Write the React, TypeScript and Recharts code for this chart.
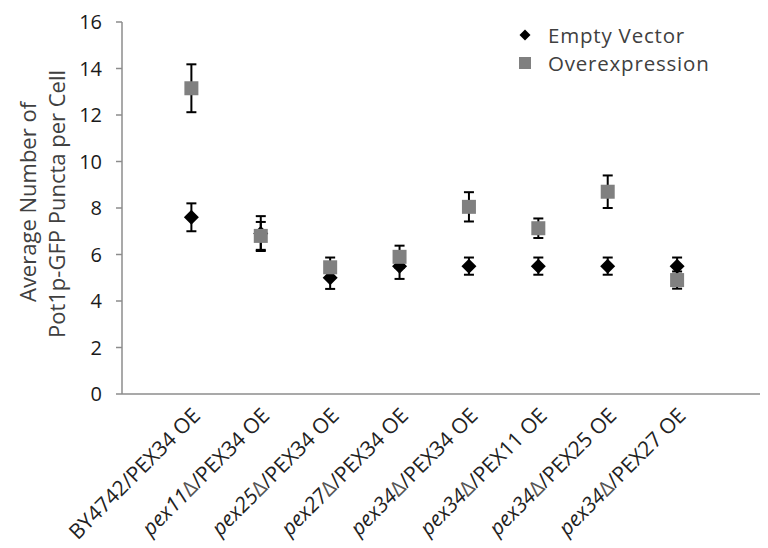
import { ScatterChart, Scatter, XAxis, YAxis, ErrorBar } from 'recharts';

const strains = ['BY4742', 'pex11', 'pex25', 'pex27', 'pex34', 'pex34', 'pex34', 'pex34'];
const deletions = ['', 'Δ', 'Δ', 'Δ', 'Δ', 'Δ', 'Δ', 'Δ'];
const plasmids = ['/PEX34 OE', '/PEX34 OE', '/PEX34 OE', '/PEX34 OE', '/PEX34 OE', '/PEX11 OE', '/PEX25 OE', '/PEX27 OE'];

const emptyVector = [7.6, 6.9, 5.0, 5.5, 5.5, 5.5, 5.5, 5.5];
const emptyVectorErr = [0.6, 0.75, 0.48, 0.55, 0.37, 0.37, 0.37, 0.37];
const overexpression = [13.15, 6.8, 5.45, 5.9, 8.05, 7.13, 8.7, 4.9];
const overexpressionErr = [1.03, 0.6, 0.42, 0.48, 0.63, 0.42, 0.7, 0.37];

const yTicks = [0, 2, 4, 6, 8, 10, 12, 14, 16];

const evData = emptyVector.map((v, i) => ({ x: i + 1, y: v, err: emptyVectorErr[i] }));
const oeData = overexpression.map((v, i) => ({ x: i + 1, y: v, err: overexpressionErr[i] }));

function Diamond(props: any) {
  const { cx, cy } = props;
  const r = 7.5;
  return <path d={`M${cx},${cy - r}L${cx + r},${cy}L${cx},${cy + r}L${cx - r},${cy}Z`} fill="#000" />;
}

function Square(props: any) {
  const { cx, cy } = props;
  const s = 14;
  return <rect x={cx - s / 2} y={cy - s / 2} width={s} height={s} fill="#808080" />;
}

function XTick(props: any) {
  const { x, y, payload } = props;
  const i = payload.value - 1;
  if (i < 0 || i >= strains.length) return null;
  const strain = strains[i];
  return (
    <g transform={`translate(${x + 10},${y + 15})`}>
      <text transform="rotate(-45)" textAnchor="end" fontFamily="Open Sans" fontSize={21} fill="#222">
        <tspan fontStyle={strain.startsWith('pex') ? 'italic' : 'normal'}>{strain}</tspan>
        <tspan fill="#555">{deletions[i]}</tspan>
        <tspan>{plasmids[i]}</tspan>
      </text>
    </g>
  );
}

function YLabel() {
  return (
    <g fontFamily="Open Sans" fontSize={22} fill="#404040">
      <text x={27} y={202} transform="rotate(-90, 27, 202)" textAnchor="middle" dominantBaseline="central">
        Average Number of
      </text>
      <text x={56} y={204} transform="rotate(-90, 56, 204)" textAnchor="middle" dominantBaseline="central">
        Pot1p-GFP Puncta per Cell
      </text>
    </g>
  );
}

export default function App() {
  return (
    <div style={{ position: 'relative', width: 768, height: 548, margin: '-8px 0 0 -8px', background: '#fff' }}>
      <ScatterChart width={768} height={548} margin={{ top: 22, right: 0, bottom: 0, left: 0 }}>
        <XAxis
          type="number"
          dataKey="x"
          domain={[0, 9.31]}
          ticks={[1, 2, 3, 4, 5, 6, 7, 8]}
          tick={<XTick />}
          tickLine={false}
          axisLine={{ stroke: '#8c8c8c', strokeWidth: 1.5 }}
          height={154}
          interval={0}
        />
        <YAxis
          type="number"
          dataKey="y"
          domain={[0, 16]}
          ticks={yTicks}
          width={122}
          tickSize={6}
          tickMargin={14}
          tickLine={{ stroke: '#8c8c8c', strokeWidth: 1.5 }}
          axisLine={{ stroke: '#8c8c8c', strokeWidth: 1.5 }}
          tick={{ fontFamily: 'Open Sans', fontSize: 20, fill: '#1a1a1a' }}
          label={{ content: () => <YLabel /> }}
        />
        <Scatter name="Empty Vector" data={evData} shape={<Diamond />} isAnimationActive={false}>
          <ErrorBar dataKey="err" direction="y" width={5} stroke="#000" strokeWidth={2} />
        </Scatter>
        <Scatter name="Overexpression" data={oeData} shape={<Square />} isAnimationActive={false}>
          <ErrorBar dataKey="err" direction="y" width={5} stroke="#000" strokeWidth={2} />
        </Scatter>
      </ScatterChart>
      <div style={{ position: 'absolute', left: 518, top: 21, fontFamily: 'Open Sans', fontSize: 20.5, letterSpacing: 0.8, color: '#404040', lineHeight: '28px' }}>
        <div style={{ display: 'flex', alignItems: 'center', height: 28 }}>
          <svg width={30} height={28}>
            <path d="M7,8.5L12.5,14L7,19.5L1.5,14Z" fill="#000" />
          </svg>
          <span>Empty Vector</span>
        </div>
        <div style={{ display: 'flex', alignItems: 'center', height: 28 }}>
          <svg width={30} height={28}>
            <rect x={1} y={8} width={12} height={12} fill="#808080" />
          </svg>
          <span>Overexpression</span>
        </div>
      </div>
    </div>
  );
}
